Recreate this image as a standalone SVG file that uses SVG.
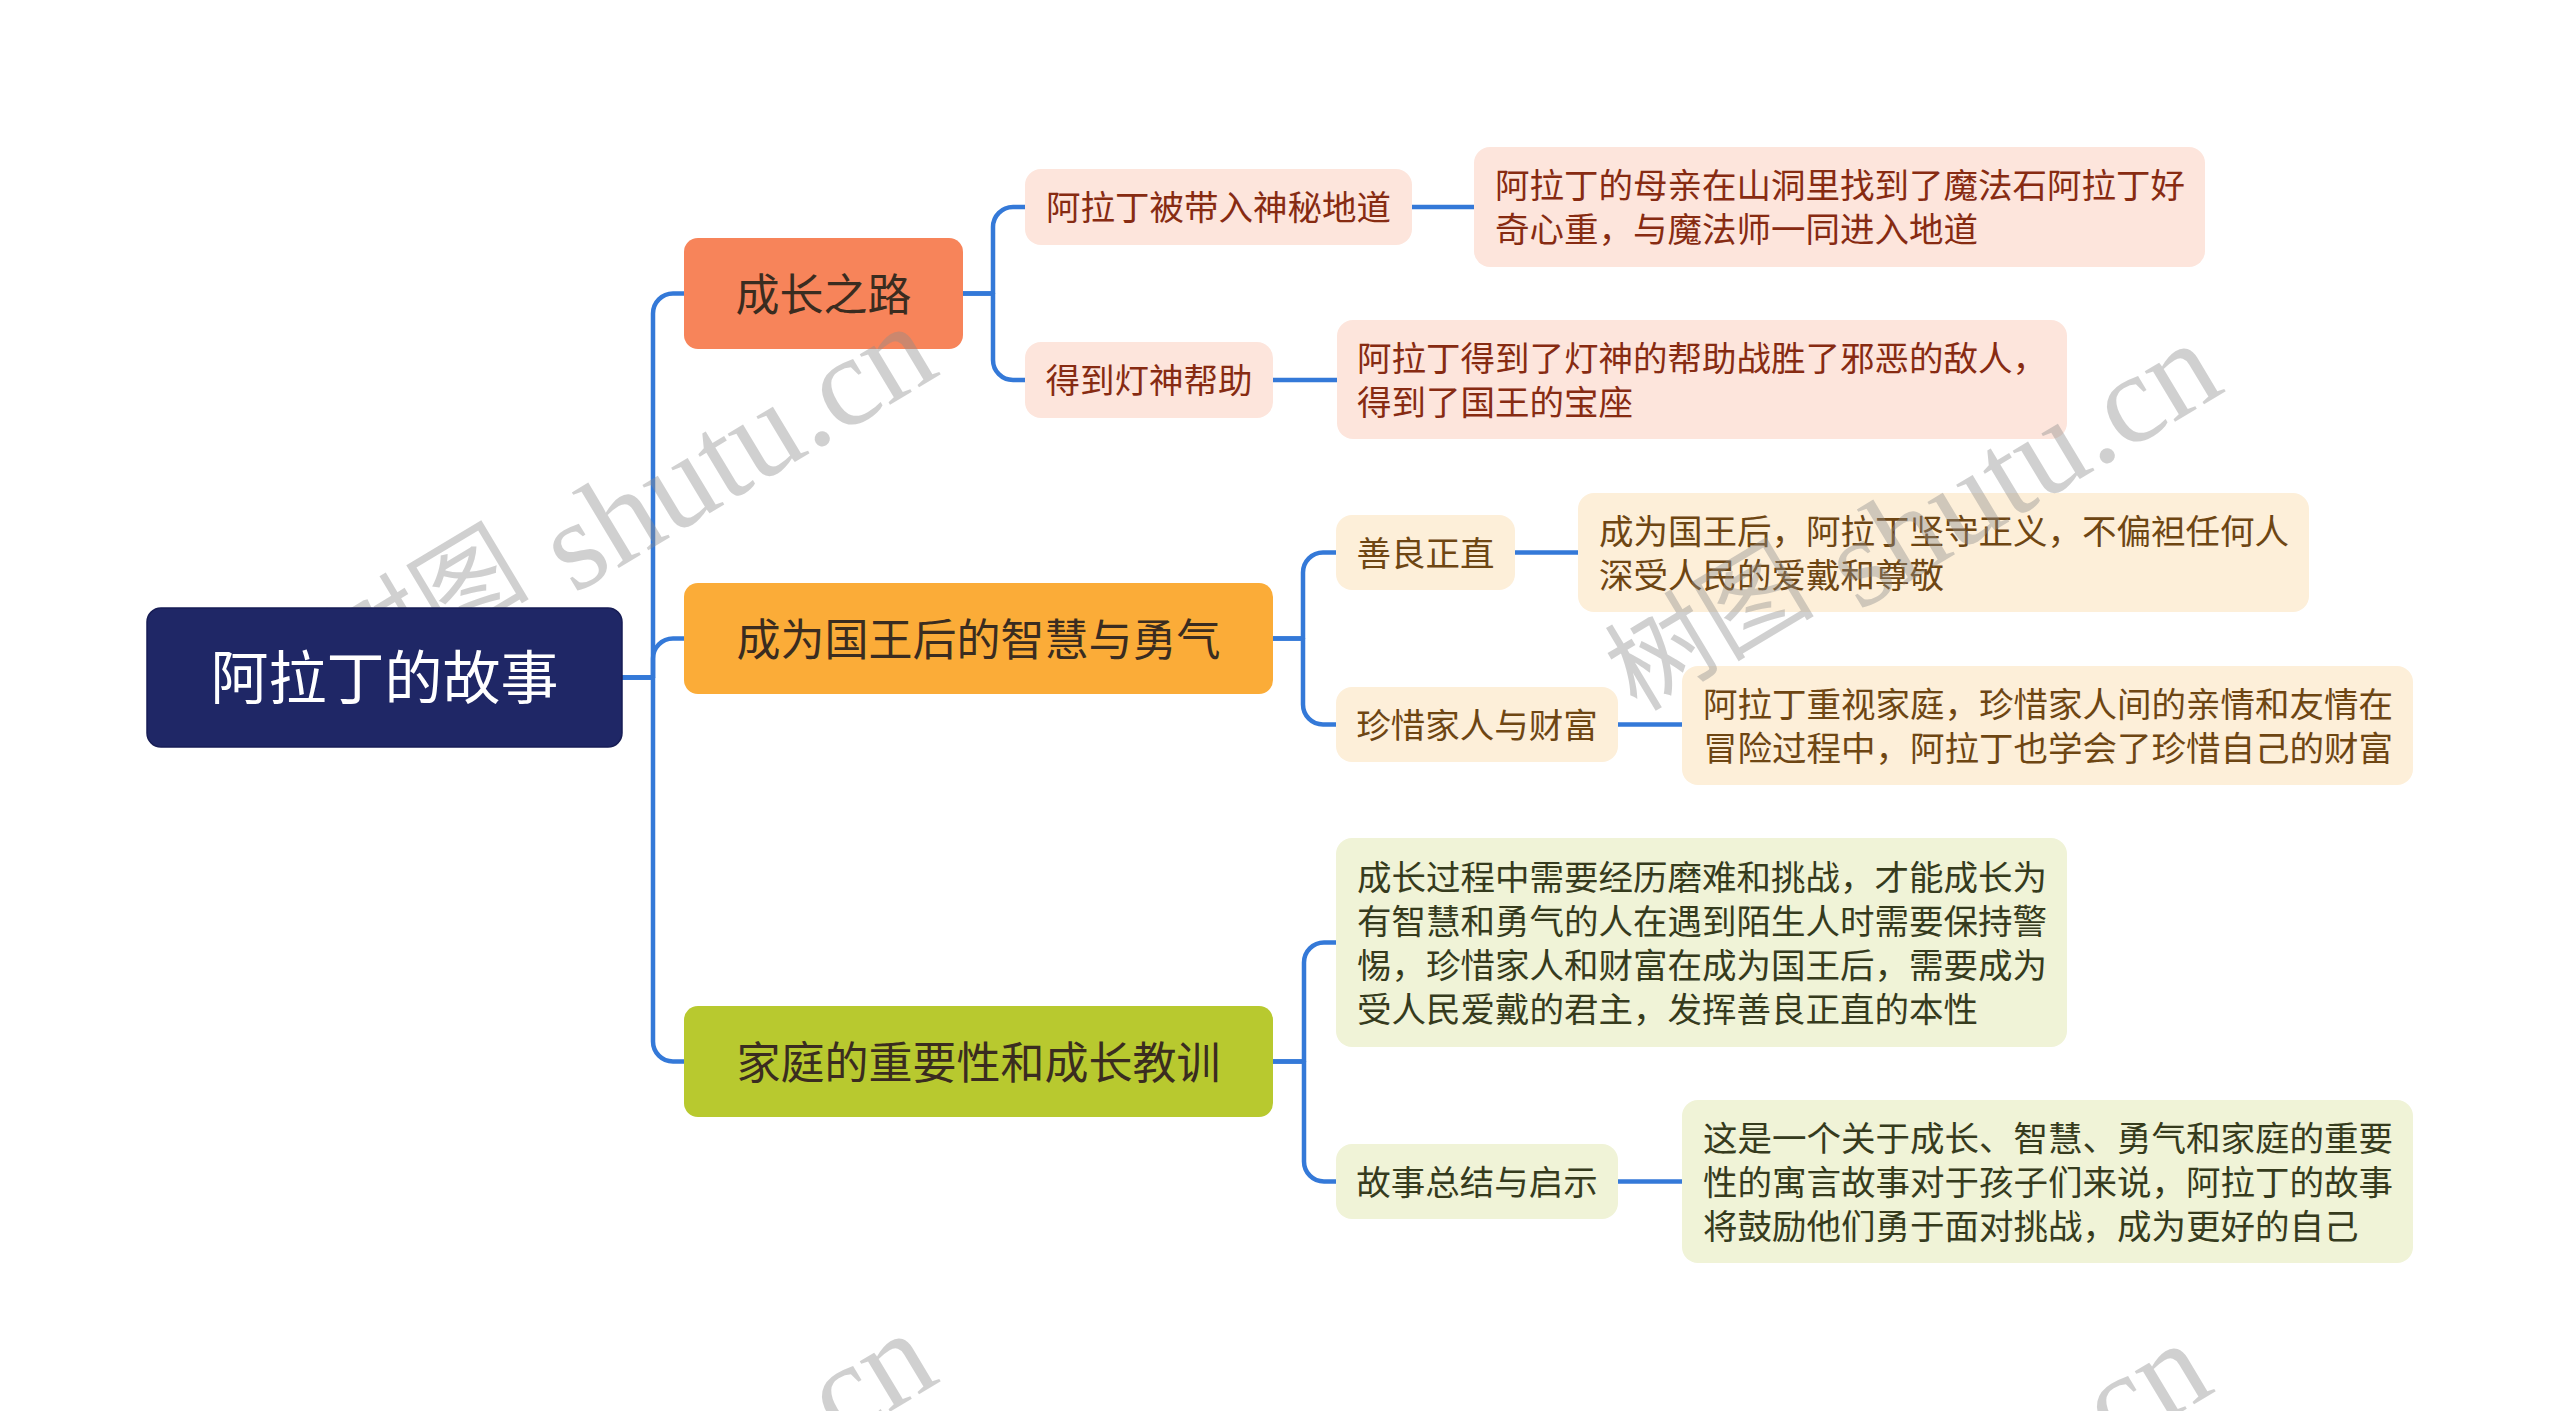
<svg xmlns="http://www.w3.org/2000/svg" width="2560" height="1411" viewBox="0 0 2560 1411">
<style>
text{font-family:"Noto Sans CJK SC","Noto Sans",sans-serif}
.conn{fill:none;stroke:#3479d8;stroke-width:4.5;stroke-linecap:butt;stroke-linejoin:round}
.root rect{fill:#1f2766;stroke:#171d55;stroke-width:1.5}
.root text{fill:#ffffff;font-size:58px;text-anchor:middle}
.l1 text{font-size:44px;text-anchor:middle;fill:#3a2c20}
.l2 text{font-size:34.5px}
.mid{text-anchor:middle}
.o rect{fill:#fde5dc}.o text{fill:#872b12}
.y rect{fill:#fdefd9}.y text{fill:#6e4613}
.g rect{fill:#f0f3d7}.g text{fill:#363b1d}
.wm{font-family:"Liberation Serif","Noto Sans CJK SC",serif;font-size:128px;fill:#8c8c8c;opacity:0.4}
.wm .cjk{font-family:"Noto Sans CJK SC",serif;font-size:105px}
</style>
<rect width="2560" height="1411" fill="#ffffff"/>
<g id="connectors">
<path class="conn" d="M622,677.5 H653 V313.5 A20,20 0 0 1 673,293.5 H684"/>
<path class="conn" d="M622,677.5 H653 V658.5 A20,20 0 0 1 673,638.5 H684"/>
<path class="conn" d="M622,677.5 H653 V1041.5 A20,20 0 0 0 673,1061.5 H684"/>
<path class="conn" d="M963,293.5 H993 V227 A20,20 0 0 1 1013,207 H1025"/>
<path class="conn" d="M963,293.5 H993 V360 A20,20 0 0 0 1013,380 H1025"/>
<path class="conn" d="M1412,207 H1474"/>
<path class="conn" d="M1273,380 H1337"/>
<path class="conn" d="M1273,638.5 H1303 V572.5 A20,20 0 0 1 1323,552.5 H1336"/>
<path class="conn" d="M1273,638.5 H1303 V704.5 A20,20 0 0 0 1323,724.5 H1336"/>
<path class="conn" d="M1515,552.5 H1578"/>
<path class="conn" d="M1618,724.5 H1682"/>
<path class="conn" d="M1273,1061.5 H1304 V962.5 A20,20 0 0 1 1324,942.5 H1336"/>
<path class="conn" d="M1273,1061.5 H1304 V1161.5 A20,20 0 0 0 1324,1181.5 H1336"/>
<path class="conn" d="M1618,1181.5 H1682"/>
</g>
<g id="n-chengzhang" class="l1">
<rect x="684" y="238" width="279" height="111" rx="14" fill="#f7845a"/>
<text x="823.5" y="310.5">成长之路</text>
</g>
<g id="n-guowang" class="l1">
<rect x="684" y="583" width="589" height="111" rx="14" fill="#fbac38"/>
<text x="978.5" y="655.5">成为国王后的智慧与勇气</text>
</g>
<g id="n-jiating" class="l1">
<rect x="684" y="1006" width="589" height="111" rx="14" fill="#b8c92f"/>
<text x="978.5" y="1078.5">家庭的重要性和成长教训</text>
</g>
<g id="n-didao" class="l2 o">
<rect x="1025" y="169" width="387" height="76" rx="16"/>
<text class="mid" x="1218.5" y="220">阿拉丁被带入神秘地道</text>
</g>
<g id="n-didao-d" class="l2 o">
<rect x="1474" y="147" width="731" height="120" rx="16"/>
<text x="1495" y="198">阿拉丁的母亲在山洞里找到了魔法石阿拉丁好</text>
<text x="1495" y="242">奇心重，与魔法师一同进入地道</text>
</g>
<g id="n-dengshen" class="l2 o">
<rect x="1025" y="342" width="248" height="76" rx="16"/>
<text class="mid" x="1149" y="393">得到灯神帮助</text>
</g>
<g id="n-dengshen-d" class="l2 o">
<rect x="1337" y="320" width="730" height="119" rx="16"/>
<text x="1357" y="370.5">阿拉丁得到了灯神的帮助战胜了邪恶的敌人，</text>
<text x="1357" y="414.5">得到了国王的宝座</text>
</g>
<g id="n-shanliang" class="l2 y">
<rect x="1336" y="515" width="179" height="75" rx="16"/>
<text class="mid" x="1425.5" y="565.5">善良正直</text>
</g>
<g id="n-shanliang-d" class="l2 y">
<rect x="1578" y="493" width="731" height="119" rx="16"/>
<text x="1599" y="543.5">成为国王后，阿拉丁坚守正义，不偏袒任何人</text>
<text x="1599" y="587.5">深受人民的爱戴和尊敬</text>
</g>
<g id="n-zhenxi" class="l2 y">
<rect x="1336" y="687" width="282" height="75" rx="16"/>
<text class="mid" x="1477" y="737.5">珍惜家人与财富</text>
</g>
<g id="n-zhenxi-d" class="l2 y">
<rect x="1682" y="666" width="731" height="119" rx="16"/>
<text x="1703" y="716.5">阿拉丁重视家庭，珍惜家人间的亲情和友情在</text>
<text x="1703" y="760.5">冒险过程中，阿拉丁也学会了珍惜自己的财富</text>
</g>
<g id="n-jiaoxun" class="l2 g">
<rect x="1336" y="838" width="731" height="209" rx="16"/>
<text x="1357" y="889.5">成长过程中需要经历磨难和挑战，才能成长为</text>
<text x="1357" y="933.5">有智慧和勇气的人在遇到陌生人时需要保持警</text>
<text x="1357" y="977.5">惕，珍惜家人和财富在成为国王后，需要成为</text>
<text x="1357" y="1021.5">受人民爱戴的君主，发挥善良正直的本性</text>
</g>
<g id="n-zongjie" class="l2 g">
<rect x="1336" y="1144" width="282" height="75" rx="16"/>
<text class="mid" x="1477" y="1194.5">故事总结与启示</text>
</g>
<g id="n-zongjie-d" class="l2 g">
<rect x="1682" y="1100" width="731" height="163" rx="16"/>
<text x="1703" y="1150.5">这是一个关于成长、智慧、勇气和家庭的重要</text>
<text x="1703" y="1194.5">性的寓言故事对于孩子们来说，阿拉丁的故事</text>
<text x="1703" y="1238.5">将鼓励他们勇于面对挑战，成为更好的自己</text>
</g>
<g id="watermarks">
<text class="wm" transform="translate(635,558) rotate(-31)"><tspan class="cjk" x="-313.5" y="-28">树图</tspan><tspan x="-71.5" y="0">shutu.cn</tspan></text>
<text class="wm" transform="translate(1920,575) rotate(-31)"><tspan class="cjk" x="-313.5" y="-28">树图</tspan><tspan x="-71.5" y="0">shutu.cn</tspan></text>
<text class="wm" transform="translate(635,1565) rotate(-31)"><tspan class="cjk" x="-313.5" y="-28">树图</tspan><tspan x="-71.5" y="0">shutu.cn</tspan></text>
<text class="wm" transform="translate(1910,1575) rotate(-31)"><tspan class="cjk" x="-313.5" y="-28">树图</tspan><tspan x="-71.5" y="0">shutu.cn</tspan></text>
</g>
<g id="root" class="root">
<rect x="147" y="608" width="475" height="139" rx="14"/>
<text x="384.5" y="699">阿拉丁的故事</text>
</g>
</svg>
